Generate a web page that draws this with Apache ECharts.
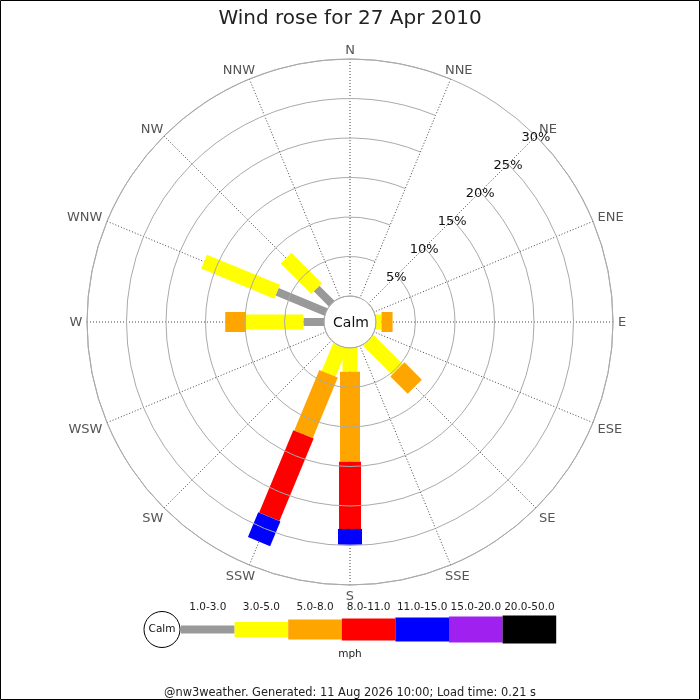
<!DOCTYPE html>
<html>
<head>
<meta charset="utf-8">
<script src="https://cdn.jsdelivr.net/npm/echarts@6/dist/echarts.min.js"></script>
<style>
html,body{margin:0;padding:0;background:#fff;}
#chart{width:700px;height:700px;}
</style>
</head>
<body>
<div id="chart"></div>
<script>
// ---- data ----
var directions = ['N','NNE','NE','ENE','E','ESE','SE','SSE','S','SSW','SW','WSW','W','WNW','NW','NNW'];
var speedBins = ['1.0-3.0','3.0-5.0','5.0-8.0','8.0-11.0','11.0-15.0','15.0-20.0','20.0-50.0'];
var radiusTicks = [0, 5, 10, 15, 20, 25, 30];
// percent of time per direction, per speed bin (order of `directions`)
var bin1to3   = [0,0,0,0,0,0,0,0,0,0,0,0,2.6,6.7,2.7,0];
var bin3to5   = [0,0,0,0,0.7,0,5.2,0,3.0,3.8,0,0,7.3,10.0,5.45,0];
var bin5to8   = [0,0,0,0,1.4,0,3.1,0,11.4,8.3,0,0,2.6,0,0,0];
var bin8to11  = [0,0,0,0,0,0,0,0,8.5,11.3,0,0,0,0,0,0];
var bin11to15 = [0,0,0,0,0,0,0,0,2.0,3.4,0,0,0,0,0,0];
var bin15to20 = [0,0,0,0,0,0,0,0,0,0,0,0,0,0,0,0];
var bin20to50 = [0,0,0,0,0,0,0,0,0,0,0,0,0,0,0,0];
var allBins = [bin1to3, bin3to5, bin5to8, bin8to11, bin11to15, bin15to20, bin20to50];

// ---- styles ----
var binColors = ['#999999','#ffff00','#ffa500','#ff0000','#0000ff','#a020f0','#000000'];
var binWidths = [8, 15, 20, 22, 24, 26, 28];
var FONT = 'DejaVu Sans';
// per-direction label padding [top, right, bottom, left] (label placement tuning)
var labelPads = [
  [0,0,16.5,0],[0,0,15.6,0],[0,0,10.8,13.6],[2,0,2.6,18.5],
  [2,0,0,20],[6.4,0,0,18.5],[14.9,0,0,13.6],[19.2,0,0,0],
  [20.5,0,0,0],[19,0,0,0],[14.9,11.3,0,0],[6.4,18.5,0,0],
  [2,19.6,0,0],[2,18.5,2.6,0],[0,11.3,10.8,0],[0,0,15.6,0]
];
var richStyles = {};
directions.forEach(function(d, i){
  richStyles['d' + i] = { padding: labelPads[i], color: '#555', fontSize: 13, fontFamily: FONT };
});

// rotate so that the first category is NE (radius axis drawn along NE)
var SHIFT = 2;
var dirsRot = directions.slice(SHIFT).concat(directions.slice(0, SHIFT));
function rotIndex(i){ return (i - SHIFT + directions.length) % directions.length; }

// cumulative stacking
var cum = directions.map(function(){ return 0; });
var series = allBins.map(function(bin, b){
  var data = [];
  bin.forEach(function(v, i){
    var start = cum[i];
    var end = start + v;
    cum[i] = end;
    if (v > 0) data.push([rotIndex(i), start, end]);
  });
  return {
    type: 'custom',
    name: speedBins[b],
    coordinateSystem: 'polar',
    encode: { angle: 0, radius: 2 },
    data: data,
    z: 5,
    renderItem: function(params, api){
      var dir = api.value(0), s = api.value(1), e = api.value(2);
      var cs = params.coordSys;
      var p0 = api.coord([s, dir]);
      var p1 = api.coord([e, dir]);
      var dx = p1[0] - cs.cx, dy = p1[1] - cs.cy;
      var len = Math.sqrt(dx*dx + dy*dy) || 1;
      var ux = dx/len, uy = dy/len;
      var hw = binWidths[b] / 2;
      var nx = -uy*hw, ny = ux*hw;
      return {
        type: 'polygon',
        shape: { points: [
          [p0[0]+nx, p0[1]+ny], [p1[0]+nx, p1[1]+ny],
          [p1[0]-nx, p1[1]-ny], [p0[0]-nx, p0[1]-ny]
        ]},
        style: { fill: binColors[b], stroke: null }
      };
    }
  };
});

// ---- legend graphics ----
var legendX0 = 181, legendSegW = 53.6, legendCY = 629.5;
var graphics = [
  { type:'rect', shape:{x:0.5,y:0.5,width:699,height:699}, style:{fill:null, stroke:'#000', lineWidth:1}, silent:true, z:100 },
  { type:'text', x:351, y:323, style:{ text:'Calm', font:'14px "DejaVu Sans"', fill:'#111', align:'center', verticalAlign:'middle' }, z:10 },
  { type:'circle', shape:{cx:162, cy:legendCY, r:18}, style:{fill:'#fff', stroke:'#000', lineWidth:1}, z:10 },
  { type:'text', x:162, y:legendCY, style:{ text:'Calm', font:'10.5px "DejaVu Sans"', fill:'#111', align:'center', verticalAlign:'middle' }, z:11 },
  { type:'text', x:350, y:654, style:{ text:'mph', font:'10.5px "DejaVu Sans"', fill:'#222', align:'center', verticalAlign:'middle' }, z:10 }
];
speedBins.forEach(function(lbl, b){
  var x = legendX0 + b*legendSegW;
  graphics.push({ type:'rect', shape:{x:x, y:legendCY - binWidths[b]/2, width:legendSegW, height:binWidths[b]},
    style:{fill:binColors[b]}, z:10 });
  graphics.push({ type:'text', x:x + legendSegW/2, y:607, style:{ text:lbl, font:'10.5px "DejaVu Sans"', fill:'#222', align:'center', verticalAlign:'middle' }, z:10 });
});

var chart = echarts.init(document.getElementById('chart'), null, {renderer:'canvas'});
chart.setOption({
  animation: false,
  backgroundColor: '#fff',
  title: [
    { text: 'Wind rose for 27 Apr 2010', left: 'center', top: 4,
      textStyle: { fontFamily: FONT, fontSize: 20, fontWeight: 'normal', color: '#222' } },
    { text: '@nw3weather. Generated: 11 Aug 2026 10:00; Load time: 0.21 s', left: 'center', top: 683,
      textStyle: { fontFamily: FONT, fontSize: 11.4, fontWeight: 'normal', color: '#222' } }
  ],
  polar: { center: [350, 322], radius: [26, 263] },
  angleAxis: {
    type: 'category',
    data: dirsRot,
    startAngle: 45,
    clockwise: true,
    boundaryGap: false,
    axisLine: { show: true, lineStyle: { color: '#aaa', width: 1 } },
    axisTick: { show: false },
    axisLabel: {
      color: '#555', fontSize: 13, fontFamily: FONT, margin: -15,
      formatter: function(v){ return '{d' + directions.indexOf(v) + '|' + v + '}'; },
      rich: richStyles
    },
    splitLine: { show: true, lineStyle: { color: '#444', width: 1, type: [1, 2] } },
    z: 1
  },
  radiusAxis: {
    type: 'value',
    min: radiusTicks[0],
    max: radiusTicks[radiusTicks.length - 1],
    interval: 5,
    axisLine: { show: false },
    axisTick: { show: false },
    axisLabel: {
      formatter: function(v){ return v === 0 ? '' : '{p|' + v + '%}'; },
      margin: 0, align: 'center', verticalAlign: 'middle',
      color: '#111', fontSize: 13, fontFamily: FONT,
      rich: { p: { padding: [4, 0, 0, 0], color: '#111', fontSize: 13, fontFamily: FONT } }
    },
    splitLine: { show: true, lineStyle: { color: '#aaa', width: 1 } },
    z: 20
  },
  series: series,
  graphic: graphics
});
</script>
</body>
</html>
